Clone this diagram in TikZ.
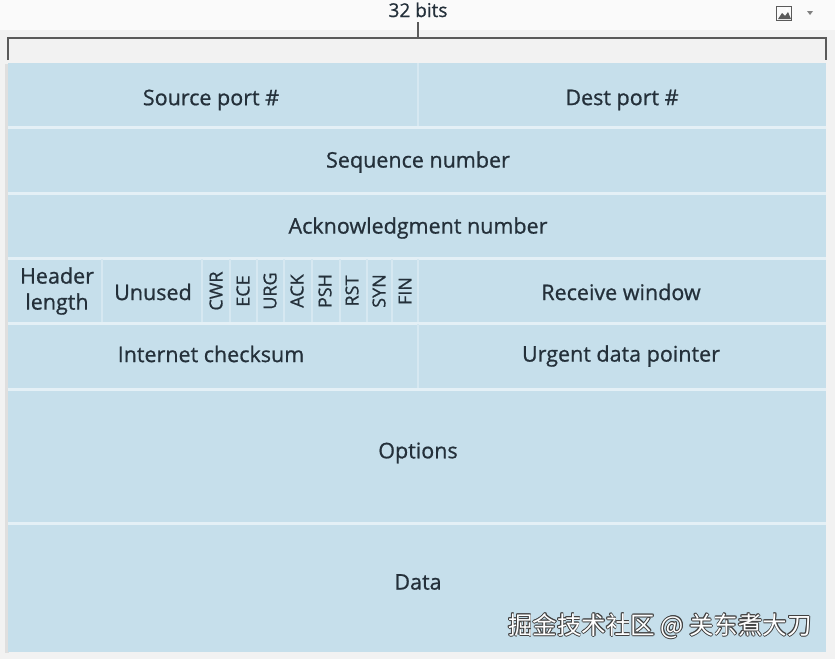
\documentclass[tikz,border=0pt]{standalone}
\usepackage{fontspec}
\setmainfont{Open Sans}[FakeBold=0.8]
\newfontfamily\cjk{Noto Sans CJK SC}
\definecolor{bgc}{RGB}{242,242,242}
\definecolor{cellc}{RGB}{198,223,235}
\definecolor{gapc}{RGB}{228,240,246}
\definecolor{sepc}{RGB}{214,232,241}
\definecolor{txtc}{RGB}{36,48,58}
\definecolor{brk}{RGB}{90,90,90}
\begin{document}
\begin{tikzpicture}[x=1pt,y=-1pt,
  lbl/.style={text=txtc,font=\fontsize{21.5}{26}\selectfont,inner sep=0pt,align=center},
  flag/.style={text=txtc,font=\fontsize{18}{20}\selectfont,inner sep=0pt,rotate=90},
  rowgap/.style={draw=gapc,line width=3pt},
  colsep/.style={draw=sepc,line width=1.6pt},
  bracket/.style={draw=brk,line width=1.3pt}]
\fill[bgc] (0,0) rectangle (835,659);
\useasboundingbox (0,0) rectangle (835,659);
\clip (0,0) rectangle (835,659);
% top header strip
\fill[white!96!gray] (0,0) rectangle (835,30);
% bracket
\coordinate (bl) at (8,60);
\coordinate (bL) at (8,38);
\coordinate (br) at (826,60);
\coordinate (bR) at (826,38);
\coordinate (bm) at (418,38);
\coordinate (bt) at (418,22);
\draw[bracket] (bl) -- (bL) -- (bR) -- (br);
\draw[bracket] (bm) -- (bt);
\node[lbl,font=\fontsize{19}{22}\selectfont,anchor=base] (bits) at (418,17) {32 bits};
% icon
\node[draw=brk,line width=1pt,minimum width=15pt,minimum height=14pt,inner sep=0pt] (icon) at (784,13) {};
\fill[brk] (778,19) -- (782,13) -- (785,16) -- (788,12) -- (791,19) -- cycle;
\fill[white] (787,9.5) circle (1.6);
\fill[gray] (807,11) -- (813,11) -- (810,15) -- cycle;
% table
\fill[gray!25] (5,64) rectangle (9,653);
\fill[cellc] (8,63) rectangle (826,652);
\foreach \y in {127,193,258,323,389,523} \draw[rowgap] (8,\y) -- (826,\y);
\draw[colsep] (418,63) -- (418,126);
\draw[colsep] (418,324) -- (418,388);
\foreach \x in {102,202,230,257,284,312,340,367,392,418} \draw[colsep] (\x,259) -- (\x,322);
% labels
\node[lbl] (src) at (211,100) {Source port \#};
\node[lbl] (dst) at (622,100) {Dest port \#};
\node[lbl] (seq) at (418,162) {Sequence number};
\node[lbl] (ack) at (418,228) {Acknowledgment number};
\node[lbl] (hlen) at (57,291) {Header\\length};
\node[lbl] (unused) at (153,292) {Unused};
\node[flag] (cwr) at (216,291) {CWR};
\node[flag] (ece) at (243,291) {ECE};
\node[flag] (urg) at (270,291) {URG};
\node[flag] (ackf) at (297,291) {ACK};
\node[flag] (psh) at (325,291) {PSH};
\node[flag] (rst) at (352,291) {RST};
\node[flag] (syn) at (379,291) {SYN};
\node[flag] (fin) at (405,291) {FIN};
\node[lbl] (rwin) at (621,292) {Receive window};
\node[lbl] (csum) at (211,354) {Internet checksum};
\node[lbl] (urgp) at (621,356) {Urgent data pointer};
\node[lbl] (opt) at (418,453) {Options};
\node[lbl] (data) at (418,582) {Data};
% watermark
\foreach \dx/\dy in {-0.8/0,0.8/0,0/-0.8,0/0.8,0.6/0.6,-0.6/0.6,0.6/-0.6,-0.6/-0.6}
  \node[text=black!75,font=\cjk\fontsize{24.5}{28}\selectfont,inner sep=0pt] at (660+\dx,626+\dy) {掘金技术社区 @ 关东煮大刀};
\node[text=white,font=\cjk\fontsize{24.5}{28}\selectfont,inner sep=0pt] (wm) at (660,626) {掘金技术社区 @ 关东煮大刀};
\end{tikzpicture}
\end{document}
